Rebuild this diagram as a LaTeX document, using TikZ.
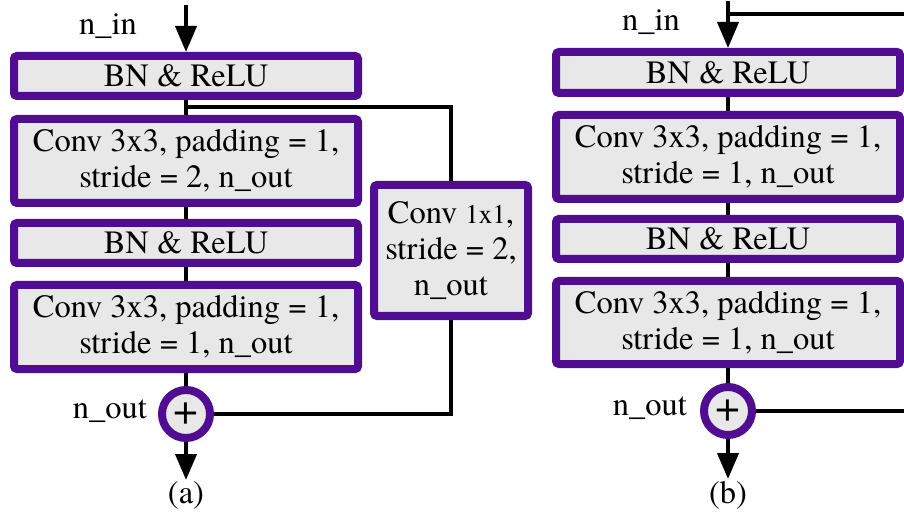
\documentclass[tikz,border=0pt]{standalone}
\usepackage{fontspec}
\setmainfont{TeX Gyre Termes}
\usetikzlibrary{arrows.meta,calc}
\definecolor{boxpurple}{RGB}{80,13,146}
\definecolor{boxfill}{RGB}{232,232,232}
\begin{document}
\begin{tikzpicture}[x=1pt,y=-1pt,
  blk/.style={draw=boxpurple,fill=boxfill,line width=8pt,rounded corners=3pt,
    minimum width=344pt,inner sep=0pt,align=center,
    font=\fontsize{32.5}{36}\selectfont},
  smallblk/.style={blk,minimum width=154pt,minimum height=131pt},
  sumnode/.style={circle,draw=boxpurple,fill=boxfill,line width=8pt,minimum size=48pt,inner sep=0pt,
    font=\fontsize{44}{44}\selectfont},
  lbl/.style={font=\fontsize{32.5}{36}\selectfont,inner sep=0pt},
  conn/.style={line width=4pt},
  arr/.style={conn,-{Triangle[length=26pt,width=21pt]}}
]
\useasboundingbox (0,0) rectangle (904,518);
% ---------- (a) ----------
\node[blk,minimum height=40pt] (bn1a) at (186,76) {BN \& ReLU};
\node[blk,minimum height=84pt] (cv1a) at (186,161) {Conv 3x3, padding = 1,\\stride = 2, n\_out};
\node[blk,minimum height=40pt] (bn2a) at (186,243) {BN \& ReLU};
\node[blk,minimum height=84pt] (cv2a) at (186,327) {Conv 3x3, padding = 1,\\stride = 1, n\_out};
\node[smallblk] (skipa) at (451,250.5) {Conv {\fontsize{27}{30}\selectfont 1x1},\\stride = 2,\\n\_out};
\node[sumnode] (suma) at (186,414) {+};
\node[lbl] (nina) at (108,26) {n\_in};
\node[lbl] (nouta) at (110,411) {n\_out};
\node[lbl] (capa) at (186,495) {(a)};
\coordinate (ina) at (186,5);
\coordinate (outa) at (186,480);
\coordinate (brancha) at (186,107);
\draw[arr] (ina) -- (bn1a.north);
\draw[conn] (bn1a.south) -- (cv1a.north);
\draw[conn] (cv1a.south) -- (bn2a.north);
\draw[conn] (bn2a.south) -- (cv2a.north);
\draw[conn] (cv2a.south) -- (suma.north);
\draw[conn] (brancha) -| (skipa.north);
\draw[conn] (skipa.south) |- (suma.east);
\draw[arr] (suma.south) -- (outa);
% ---------- (b) ----------
\node[blk,minimum height=41pt] (bn1b) at (728,72.5) {BN \& ReLU};
\node[blk,minimum height=84pt] (cv1b) at (728,157) {Conv 3x3, padding = 1,\\stride = 1, n\_out};
\node[blk,minimum height=40pt] (bn2b) at (728,239) {BN \& ReLU};
\node[blk,minimum height=83pt] (cv2b) at (728,322.5) {Conv 3x3, padding = 1,\\stride = 1, n\_out};
\node[sumnode] (sumb) at (728,411) {+};
\node[lbl] (ninb) at (651,22) {n\_in};
\node[lbl] (noutb) at (650,408) {n\_out};
\node[lbl] (capb) at (728,495) {(b)};
\coordinate (inb) at (728,1);
\coordinate (outb) at (728,479);
\coordinate (topb) at (728,14);
\coordinate (topendb) at (906,14);
\coordinate (botendb) at (906,411);
\draw[arr] (inb) -- (bn1b.north);
\draw[conn] (topb) -- (topendb);
\draw[conn] (bn1b.south) -- (cv1b.north);
\draw[conn] (cv1b.south) -- (bn2b.north);
\draw[conn] (bn2b.south) -- (cv2b.north);
\draw[conn] (cv2b.south) -- (sumb.north);
\draw[conn] (sumb.east) -- (botendb);
\draw[arr] (sumb.south) -- (outb);
\end{tikzpicture}
\end{document}
